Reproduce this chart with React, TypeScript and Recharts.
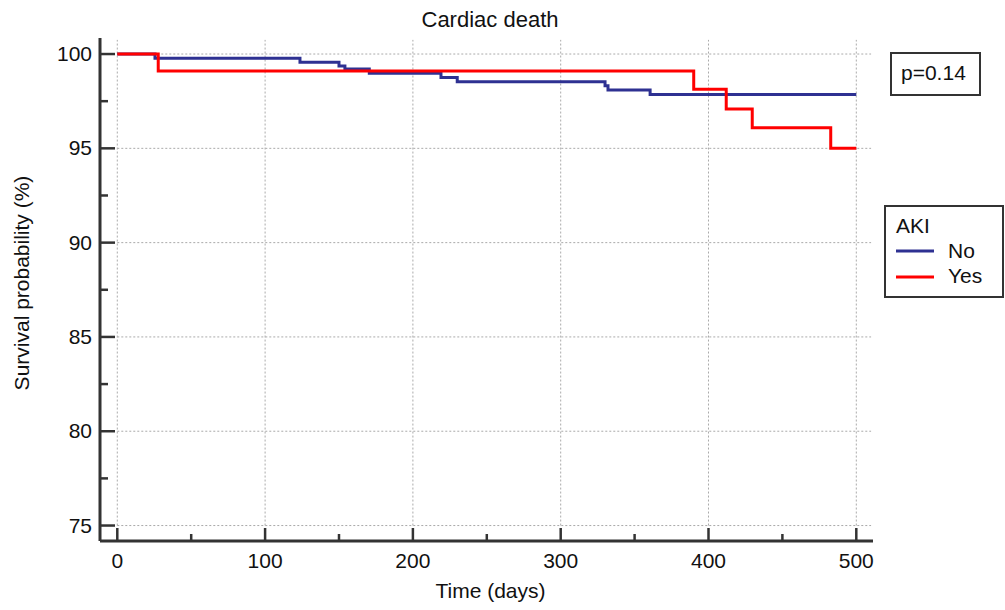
import { LineChart, Line, XAxis, YAxis, ReferenceLine } from "recharts";

// Kaplan-Meier steps
const noDays = [0, 25.5, 123.6, 150, 154, 170.5, 219, 230, 330, 332, 360.5, 500];
const noSurv = [100, 99.77, 99.56, 99.36, 99.2, 98.98, 98.76, 98.53, 98.32, 98.09, 97.86, 97.86];
const yesDays = [0, 27.7, 390, 412, 429.6, 482.7, 500];
const yesSurv = [100, 99.1, 98.13, 97.08, 96.09, 95.0, 95.0];

const xTicks = [0, 50, 100, 150, 200, 250, 300, 350, 400, 450, 500];
const xGrid = [0, 100, 200, 300, 400, 500];
const yTicks = [75, 77.5, 80, 82.5, 85, 87.5, 90, 92.5, 95, 97.5, 100];
const yGrid = [75, 80, 85, 90, 95, 100];

const xDomain = [-11.7, 511.3];
const yDomain = [74.18, 100.85];

const series = [
  { name: "No", color: "#2e3192", days: noDays, surv: noSurv },
  { name: "Yes", color: "#ff0000", days: yesDays, surv: yesSurv },
];

const FONT = "'Liberation Sans', Arial, sans-serif";
const AXIS = "#333333";

function toRows(days: number[], surv: number[]) {
  return days.map((t, i) => ({ t, s: surv[i] }));
}

function XTick(props: any) {
  const { x, y, payload } = props;
  const major = payload.value % 100 === 0;
  return (
    <g>
      <line x1={x} y1={y} x2={x} y2={y - (major ? 13 : 7)} stroke={AXIS} strokeWidth={2.5} />
      {major && (
        <text x={x} y={y + 27} textAnchor="middle" fontSize={21} fontFamily={FONT} fill="#111">
          {payload.value}
        </text>
      )}
    </g>
  );
}

function YTick(props: any) {
  const { x, y, payload } = props;
  const major = payload.value % 5 === 0;
  return (
    <g>
      <line x1={x} y1={y} x2={x + (major ? 15 : 8)} y2={y} stroke={AXIS} strokeWidth={2.5} />
      {major && (
        <text x={x - 8} y={y + 7} textAnchor="end" fontSize={21} fontFamily={FONT} fill="#111">
          {payload.value}
        </text>
      )}
    </g>
  );
}

export default function App() {
  return (
    <div style={{ position: "absolute", left: 0, top: 0, width: 1005, height: 610, background: "#fff" }}>
      <LineChart width={1005} height={610} margin={{ top: 38, right: 132, bottom: 9, left: 40 }}>
        <XAxis
          type="number"
          dataKey="t"
          domain={xDomain}
          ticks={xTicks}
          allowDataOverflow
          height={60}
          tickSize={0}
          tickMargin={0}
          tickLine={false}
          tick={<XTick />}
          axisLine={{ stroke: AXIS, strokeWidth: 3 }}
        />
        <YAxis
          type="number"
          dataKey="s"
          domain={yDomain}
          ticks={yTicks}
          allowDataOverflow
          width={60}
          tickSize={0}
          tickMargin={0}
          tickLine={false}
          tick={<YTick />}
          axisLine={{ stroke: AXIS, strokeWidth: 3 }}
        />
        {yGrid.map((v) => (
          <ReferenceLine
            key={`h${v}`}
            segment={[{ x: 0, y: v }, { x: 510, y: v }]}
            stroke="#aaaaaa"
            strokeDasharray="2 2"
            strokeWidth={1}
          />
        ))}
        {xGrid.map((v) => (
          <ReferenceLine
            key={`v${v}`}
            segment={[{ x: v, y: 75 }, { x: v, y: 100.75 }]}
            stroke="#aaaaaa"
            strokeDasharray="2 2"
            strokeWidth={1}
          />
        ))}
        {series.map((s) => (
          <Line
            key={s.name}
            data={toRows(s.days, s.surv)}
            dataKey="s"
            type="stepAfter"
            stroke={s.color}
            strokeWidth={3}
            dot={false}
            activeDot={false}
            isAnimationActive={false}
          />
        ))}
      </LineChart>

      <svg
        width={1005}
        height={610}
        style={{ position: "absolute", left: 0, top: 0, pointerEvents: "none" }}
        fontFamily={FONT}
      >
        <text x={490} y={27} textAnchor="middle" fontSize={22} fill="#111">
          Cardiac death
        </text>
        <text x={490.5} y={598} textAnchor="middle" fontSize={21} fill="#111">
          Time (days)
        </text>
        <text transform="translate(29,283) rotate(-90)" textAnchor="middle" fontSize={21} fill="#111">
          Survival probability (%)
        </text>

        <rect x={891} y={53} width={89} height={42} fill="#fff" stroke={AXIS} strokeWidth={2} />
        <text x={901} y={80} fontSize={21} fill="#111">
          p=0.14
        </text>

        <rect x={885} y={206} width={118} height={91} fill="#fff" stroke={AXIS} strokeWidth={2} />
        <text x={896} y={233} fontSize={21} fill="#111">
          AKI
        </text>
        {series.map((s, i) => (
          <g key={s.name}>
            <line x1={896} x2={934} y1={251 + i * 26} y2={251 + i * 26} stroke={s.color} strokeWidth={3} />
            <text x={948} y={258 + i * 25} fontSize={21} fill="#111">
              {s.name}
            </text>
          </g>
        ))}
      </svg>
    </div>
  );
}
